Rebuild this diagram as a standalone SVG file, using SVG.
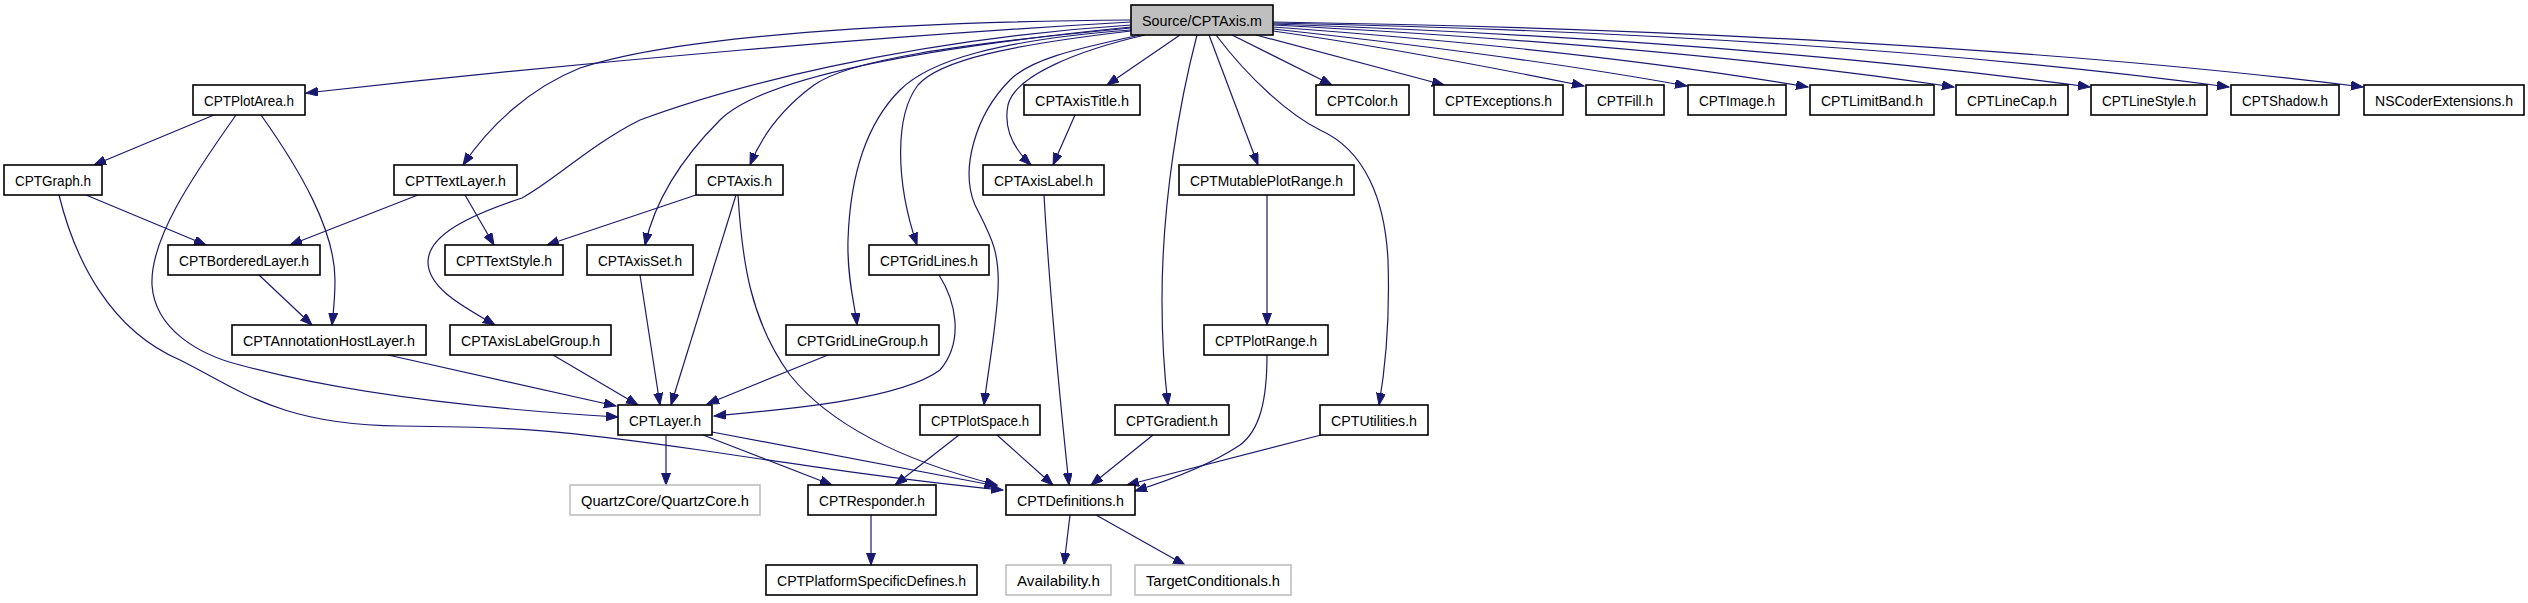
<svg xmlns="http://www.w3.org/2000/svg" width="2528" height="603" viewBox="0 0 2528 603">
<style>
.n rect{fill:#fff;stroke:#000;stroke-width:1.6}
.n.g rect{stroke:#bfbfbf}
.n.s rect{fill:#bfbfbf}
.n text{font-family:"Liberation Sans",Arial,sans-serif;font-size:15px;text-anchor:middle;fill:#000}
.e path{fill:none;stroke:#191970;stroke-width:1.2;marker-end:url(#a)}
</style>
<defs>
<marker id="a" markerWidth="13" markerHeight="10" refX="12" refY="4.5" orient="auto" markerUnits="userSpaceOnUse">
<path d="M0,0 L12,4.5 L0,9 z" fill="#191970" stroke="#191970" stroke-width="1"/>
</marker>
</defs>
<rect width="2528" height="603" fill="#fff"/>
<g id="edges" class="e">
<path d="M1131,22 C900,35 600,60 306,93"/>
<path d="M1131,20 C900,22 680,35 580,68 C530,88 490,125 463,165"/>
<path d="M1131,25 C900,40 720,90 640,120 C590,145 555,180 522,198 C470,215 428,235 428,262 C428,290 470,310 495,325"/>
<path d="M1131,27 C900,50 760,80 720,120 C680,160 655,200 645,245"/>
<path d="M1131,28 C950,45 850,60 814,85 C780,110 760,140 750,165"/>
<path d="M1131,30 C1000,40 930,60 900,90 C865,125 850,180 848,240 C847,280 855,305 857,325"/>
<path d="M1131,31 C1010,45 940,60 918,85 C895,115 895,180 917,245"/>
<path d="M1140,35 C1070,50 1030,60 1010,80 C975,115 960,170 975,205 C990,235 1000,250 998,290 C996,330 988,370 984,405"/>
<path d="M1145,35 C1080,50 1015,75 1008,105 C1003,130 1015,150 1031,165"/>
<path d="M1180,35 L1107,85"/>
<path d="M1197,35 C1180,100 1162,200 1162,300 C1162,340 1165,380 1168,405"/>
<path d="M1209,35 L1258,165"/>
<path d="M1216,35 C1250,80 1290,115 1320,130 C1365,150 1385,200 1388,260 C1390,320 1385,370 1379,405"/>
<path d="M1232,35 L1332,85"/>
<path d="M1256,35 L1444,85"/>
<path d="M1273,31 C1380,46 1480,65 1584,86"/>
<path d="M1273,29 C1420,45 1560,63 1687,86"/>
<path d="M1273,27 C1480,42 1660,62 1808,87"/>
<path d="M1273,25 C1520,38 1760,58 1954,87"/>
<path d="M1273,24 C1560,34 1850,55 2090,87"/>
<path d="M1273,23 C1620,30 1950,50 2229,87"/>
<path d="M1273,22 C1660,28 2050,48 2363,87"/>
<path d="M214,115 L94,165"/>
<path d="M236,115 C190,180 150,240 152,285 C155,330 200,355 240,365 C350,395 500,410 618,417"/>
<path d="M261,115 C300,170 335,230 335,280 C335,300 333,315 332,325"/>
<path d="M465,195 L494,245"/>
<path d="M418,195 L290,245"/>
<path d="M86,195 L206,245"/>
<path d="M696,195 L547,245"/>
<path d="M59,195 C75,260 110,330 180,360 C240,390 280,425 400,426 C520,427 560,430 700,450 C800,465 900,480 1003,490"/>
<path d="M259,275 L312,325"/>
<path d="M388,355 L616,406"/>
<path d="M553,355 L638,405"/>
<path d="M640,275 L660,405"/>
<path d="M736,195 L671,405"/>
<path d="M738,195 C742,260 750,320 790,375 C830,425 900,460 997,485"/>
<path d="M939,275 C955,300 965,340 940,370 C900,400 780,410 714,416"/>
<path d="M828,355 L707,404"/>
<path d="M666,435 L666,485"/>
<path d="M703,435 L832,485"/>
<path d="M712,432 L997,486"/>
<path d="M959,435 L895,485"/>
<path d="M997,435 L1053,485"/>
<path d="M1044,195 C1050,300 1060,400 1069,485"/>
<path d="M1153,435 L1091,485"/>
<path d="M1267,355 C1267,400 1260,430 1240,445 C1210,465 1170,480 1135,491"/>
<path d="M1321,435 L1127,485"/>
<path d="M1267,195 L1267,325"/>
<path d="M1075,115 L1053,165"/>
<path d="M871,515 L871,565"/>
<path d="M1070,515 L1064,565"/>
<path d="M1096,515 L1185,565"/>
</g>
<g id="n_source" class="n s"><rect x="1131" y="5" width="142" height="30"/><text x="1202" y="25.5" textLength="120" lengthAdjust="spacingAndGlyphs">Source/CPTAxis.m</text></g>
<g id="n_plotarea" class="n"><rect x="193" y="85" width="112" height="30"/><text x="249" y="105.5" textLength="90" lengthAdjust="spacingAndGlyphs">CPTPlotArea.h</text></g>
<g id="n_axistitle" class="n"><rect x="1024" y="85" width="116" height="30"/><text x="1082" y="105.5" textLength="94" lengthAdjust="spacingAndGlyphs">CPTAxisTitle.h</text></g>
<g id="n_color" class="n"><rect x="1316" y="85" width="93" height="30"/><text x="1362.5" y="105.5" textLength="71" lengthAdjust="spacingAndGlyphs">CPTColor.h</text></g>
<g id="n_exceptions" class="n"><rect x="1434" y="85" width="129" height="30"/><text x="1498.5" y="105.5" textLength="107" lengthAdjust="spacingAndGlyphs">CPTExceptions.h</text></g>
<g id="n_fill" class="n"><rect x="1586" y="85" width="78" height="30"/><text x="1625" y="105.5" textLength="56" lengthAdjust="spacingAndGlyphs">CPTFill.h</text></g>
<g id="n_image" class="n"><rect x="1688" y="85" width="98" height="30"/><text x="1737" y="105.5" textLength="76" lengthAdjust="spacingAndGlyphs">CPTImage.h</text></g>
<g id="n_limitband" class="n"><rect x="1810" y="85" width="124" height="30"/><text x="1872" y="105.5" textLength="102" lengthAdjust="spacingAndGlyphs">CPTLimitBand.h</text></g>
<g id="n_linecap" class="n"><rect x="1956" y="85" width="112" height="30"/><text x="2012" y="105.5" textLength="90" lengthAdjust="spacingAndGlyphs">CPTLineCap.h</text></g>
<g id="n_linestyle" class="n"><rect x="2091" y="85" width="116" height="30"/><text x="2149" y="105.5" textLength="94" lengthAdjust="spacingAndGlyphs">CPTLineStyle.h</text></g>
<g id="n_shadow" class="n"><rect x="2231" y="85" width="108" height="30"/><text x="2285" y="105.5" textLength="86" lengthAdjust="spacingAndGlyphs">CPTShadow.h</text></g>
<g id="n_nscoder" class="n"><rect x="2364" y="85" width="160" height="30"/><text x="2444" y="105.5" textLength="138" lengthAdjust="spacingAndGlyphs">NSCoderExtensions.h</text></g>
<g id="n_graph" class="n"><rect x="4" y="165" width="98" height="30"/><text x="53" y="185.5" textLength="76" lengthAdjust="spacingAndGlyphs">CPTGraph.h</text></g>
<g id="n_textlayer" class="n"><rect x="394" y="165" width="123" height="30"/><text x="455.5" y="185.5" textLength="101" lengthAdjust="spacingAndGlyphs">CPTTextLayer.h</text></g>
<g id="n_axis" class="n"><rect x="696" y="165" width="87" height="30"/><text x="739.5" y="185.5" textLength="65" lengthAdjust="spacingAndGlyphs">CPTAxis.h</text></g>
<g id="n_axislabel" class="n"><rect x="983" y="165" width="121" height="30"/><text x="1043.5" y="185.5" textLength="99" lengthAdjust="spacingAndGlyphs">CPTAxisLabel.h</text></g>
<g id="n_mutableplotrange" class="n"><rect x="1179" y="165" width="175" height="30"/><text x="1266.5" y="185.5" textLength="153" lengthAdjust="spacingAndGlyphs">CPTMutablePlotRange.h</text></g>
<g id="n_borderedlayer" class="n"><rect x="168" y="245" width="152" height="30"/><text x="244" y="265.5" textLength="130" lengthAdjust="spacingAndGlyphs">CPTBorderedLayer.h</text></g>
<g id="n_textstyle" class="n"><rect x="445" y="245" width="118" height="30"/><text x="504" y="265.5" textLength="96" lengthAdjust="spacingAndGlyphs">CPTTextStyle.h</text></g>
<g id="n_axisset" class="n"><rect x="587" y="245" width="106" height="30"/><text x="640" y="265.5" textLength="84" lengthAdjust="spacingAndGlyphs">CPTAxisSet.h</text></g>
<g id="n_gridlines" class="n"><rect x="869" y="245" width="120" height="30"/><text x="929" y="265.5" textLength="98" lengthAdjust="spacingAndGlyphs">CPTGridLines.h</text></g>
<g id="n_annotationhost" class="n"><rect x="232" y="325" width="194" height="30"/><text x="329" y="345.5" textLength="172" lengthAdjust="spacingAndGlyphs">CPTAnnotationHostLayer.h</text></g>
<g id="n_axislabelgroup" class="n"><rect x="450" y="325" width="161" height="30"/><text x="530.5" y="345.5" textLength="139" lengthAdjust="spacingAndGlyphs">CPTAxisLabelGroup.h</text></g>
<g id="n_gridlinegroup" class="n"><rect x="786" y="325" width="153" height="30"/><text x="862.5" y="345.5" textLength="131" lengthAdjust="spacingAndGlyphs">CPTGridLineGroup.h</text></g>
<g id="n_plotrange" class="n"><rect x="1204" y="325" width="124" height="30"/><text x="1266" y="345.5" textLength="102" lengthAdjust="spacingAndGlyphs">CPTPlotRange.h</text></g>
<g id="n_layer" class="n"><rect x="618" y="405" width="94" height="30"/><text x="665" y="425.5" textLength="72" lengthAdjust="spacingAndGlyphs">CPTLayer.h</text></g>
<g id="n_plotspace" class="n"><rect x="920" y="405" width="120" height="30"/><text x="980" y="425.5" textLength="98" lengthAdjust="spacingAndGlyphs">CPTPlotSpace.h</text></g>
<g id="n_gradient" class="n"><rect x="1115" y="405" width="114" height="30"/><text x="1172" y="425.5" textLength="92" lengthAdjust="spacingAndGlyphs">CPTGradient.h</text></g>
<g id="n_utilities" class="n"><rect x="1320" y="405" width="108" height="30"/><text x="1374" y="425.5" textLength="86" lengthAdjust="spacingAndGlyphs">CPTUtilities.h</text></g>
<g id="n_quartzcore" class="n g"><rect x="570" y="485" width="190" height="30"/><text x="665" y="505.5" textLength="168" lengthAdjust="spacingAndGlyphs">QuartzCore/QuartzCore.h</text></g>
<g id="n_responder" class="n"><rect x="808" y="485" width="128" height="30"/><text x="872" y="505.5" textLength="106" lengthAdjust="spacingAndGlyphs">CPTResponder.h</text></g>
<g id="n_definitions" class="n"><rect x="1006" y="485" width="129" height="30"/><text x="1070.5" y="505.5" textLength="107" lengthAdjust="spacingAndGlyphs">CPTDefinitions.h</text></g>
<g id="n_platformspecific" class="n"><rect x="766" y="565" width="211" height="30"/><text x="871.5" y="585.5" textLength="189" lengthAdjust="spacingAndGlyphs">CPTPlatformSpecificDefines.h</text></g>
<g id="n_availability" class="n g"><rect x="1006" y="565" width="105" height="30"/><text x="1058.5" y="585.5" textLength="83" lengthAdjust="spacingAndGlyphs">Availability.h</text></g>
<g id="n_targetconditionals" class="n g"><rect x="1135" y="565" width="156" height="30"/><text x="1213" y="585.5" textLength="134" lengthAdjust="spacingAndGlyphs">TargetConditionals.h</text></g>
</svg>
